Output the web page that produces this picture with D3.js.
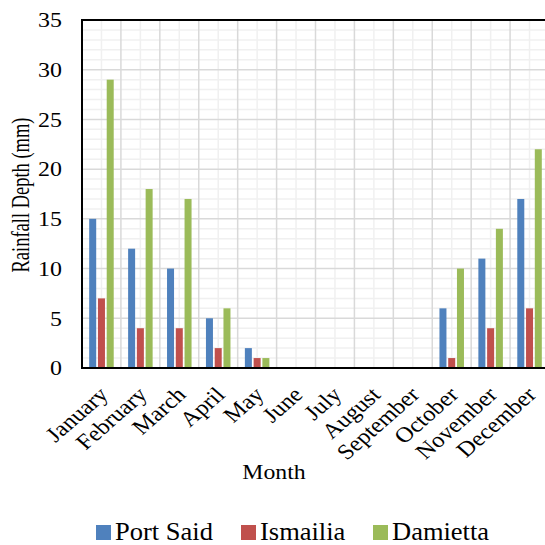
<!DOCTYPE html>
<html>
<head>
<meta charset="utf-8">
<script src="https://cdn.jsdelivr.net/npm/d3@7"></script>
<style>
  html, body { margin: 0; padding: 0; background: #fff; }
  svg, svg text { font-family: "Liberation Serif", "Times New Roman", serif !important; }
  svg { display: block; }
</style>
</head>
<body>
<svg id="chart" width="545" height="545"></svg>
<script>
// Monthly rainfall depth (mm) at three stations
const months = ["January", "February", "March", "April", "May", "June",
                "July", "August", "September", "October", "November", "December"];
const seriesNames = ["Port Said", "Ismailia", "Damietta"];
const portSaid = [15, 12, 10, 5, 2, 0, 0, 0, 0, 6, 11, 17];
const ismailia = [7, 4, 4, 2, 1, 0, 0, 0, 0, 1, 4, 6];
const damietta = [29, 18, 17, 6, 1, 0, 0, 0, 0, 10, 14, 22];
const yTicks = [0, 5, 10, 15, 20, 25, 30, 35];
const colors = ["#4f81bd", "#c0504d", "#9bbb59"];

const seriesValues = [portSaid, ismailia, damietta];
const rows = months.map((m, i) => ({
  month: m,
  values: seriesNames.map((s, k) => ({ series: s, k, value: seriesValues[k][i] }))
}));

// text in this figure is drawn slightly wide
const STRETCH = 1.14;

const svg = d3.select("#chart");
const plot = { left: 82, top: 20, right: 549, bottom: 368 };

const x = d3.scaleBand().domain(months).range([plot.left, plot.right]).padding(0);
const y = d3.scaleLinear().domain([0, 35]).range([plot.bottom, plot.top]);
const groupW = x.bandwidth() * 0.63;
const xs = d3.scaleBand().domain(seriesNames).range([0, groupW]).paddingInner(0.2);

const g = svg.append("g");

// minor horizontal gridlines every 1 mm
g.append("g").selectAll("line")
  .data(d3.range(0, 36).filter(v => v % 5 !== 0))
  .join("line")
  .attr("x1", plot.left).attr("x2", plot.right)
  .attr("y1", d => y(d)).attr("y2", d => y(d))
  .attr("stroke", "#f0f0f0").attr("stroke-width", 1.5);

// minor vertical gridlines at month centres
g.append("g").selectAll("line")
  .data(months)
  .join("line")
  .attr("x1", d => x(d) + x.bandwidth() / 2).attr("x2", d => x(d) + x.bandwidth() / 2)
  .attr("y1", plot.top).attr("y2", plot.bottom)
  .attr("stroke", "#f0f0f0").attr("stroke-width", 1.5);

// major horizontal gridlines
g.append("g").selectAll("line")
  .data(yTicks.filter(v => v > 0 && v < 35))
  .join("line")
  .attr("x1", plot.left).attr("x2", plot.right)
  .attr("y1", d => y(d)).attr("y2", d => y(d))
  .attr("stroke", "#d9d9d9").attr("stroke-width", 1.5);

// major vertical gridlines at month boundaries
g.append("g").selectAll("line")
  .data(months.slice(1))
  .join("line")
  .attr("x1", d => x(d)).attr("x2", d => x(d))
  .attr("y1", plot.top).attr("y2", plot.bottom)
  .attr("stroke", "#d9d9d9").attr("stroke-width", 1.5);

// bars
g.append("g").selectAll("g")
  .data(rows)
  .join("g")
  .attr("transform", d => `translate(${x(d.month) + (x.bandwidth() - groupW) / 2},0)`)
  .selectAll("rect")
  .data(d => d.values)
  .join("rect")
  .attr("x", d => xs(d.series))
  .attr("width", xs.bandwidth())
  .attr("y", d => y(d.value))
  .attr("height", d => y(0) - y(d.value))
  .attr("fill", d => colors[d.k]);

// plot frame
svg.append("rect")
  .attr("x", plot.left).attr("y", plot.top)
  .attr("width", plot.right - plot.left).attr("height", plot.bottom - plot.top)
  .attr("fill", "none").attr("stroke", "#000").attr("stroke-width", 2);

// y axis tick labels
const yAxis = d3.axisLeft(y).tickValues(yTicks).tickSize(0).tickPadding(0);
svg.append("g")
  .attr("transform", `translate(${plot.left},0)`)
  .call(yAxis)
  .call(a => a.select(".domain").remove())
  .attr("font-size", 21)
  .selectAll("text")
  .attr("fill", "#000")
  .attr("x", 0)
  .attr("transform", `translate(-20,0) scale(${STRETCH},1)`);

// x axis month labels, rotated
const xAxis = d3.axisBottom(x).tickSize(0).tickPadding(0);
svg.append("g")
  .attr("transform", `translate(0,${plot.bottom})`)
  .call(xAxis)
  .call(a => a.select(".domain").remove())
  .attr("font-size", 21.5)
  .selectAll("text")
  .attr("fill", "#000")
  .attr("text-anchor", "end")
  .attr("dy", null)
  .attr("y", 0)
  .attr("transform", `translate(8,28) scale(${STRETCH},1) rotate(-45)`);

// axis titles
svg.append("text")
  .attr("transform", `translate(274,479) scale(1.08,1)`)
  .attr("text-anchor", "middle")
  .attr("font-size", 22)
  .text("Month");

svg.append("text")
  .attr("transform", `translate(29,195) scale(1.38,1) rotate(-90)`)
  .attr("text-anchor", "middle")
  .attr("font-size", 18.5)
  .text("Rainfall Depth (mm)");

// legend
const legendX = [96, 241, 373];
const legend = svg.append("g").selectAll("g")
  .data(seriesNames)
  .join("g")
  .attr("transform", (d, i) => `translate(${legendX[i]},525)`);
legend.append("rect")
  .attr("width", 15).attr("height", 15)
  .attr("fill", (d, i) => colors[i]);
legend.append("text")
  .attr("transform", "translate(19,14.5) scale(1.06,1)")
  .attr("font-size", 25)
  .text(d => d);
</script>
</body>
</html>
